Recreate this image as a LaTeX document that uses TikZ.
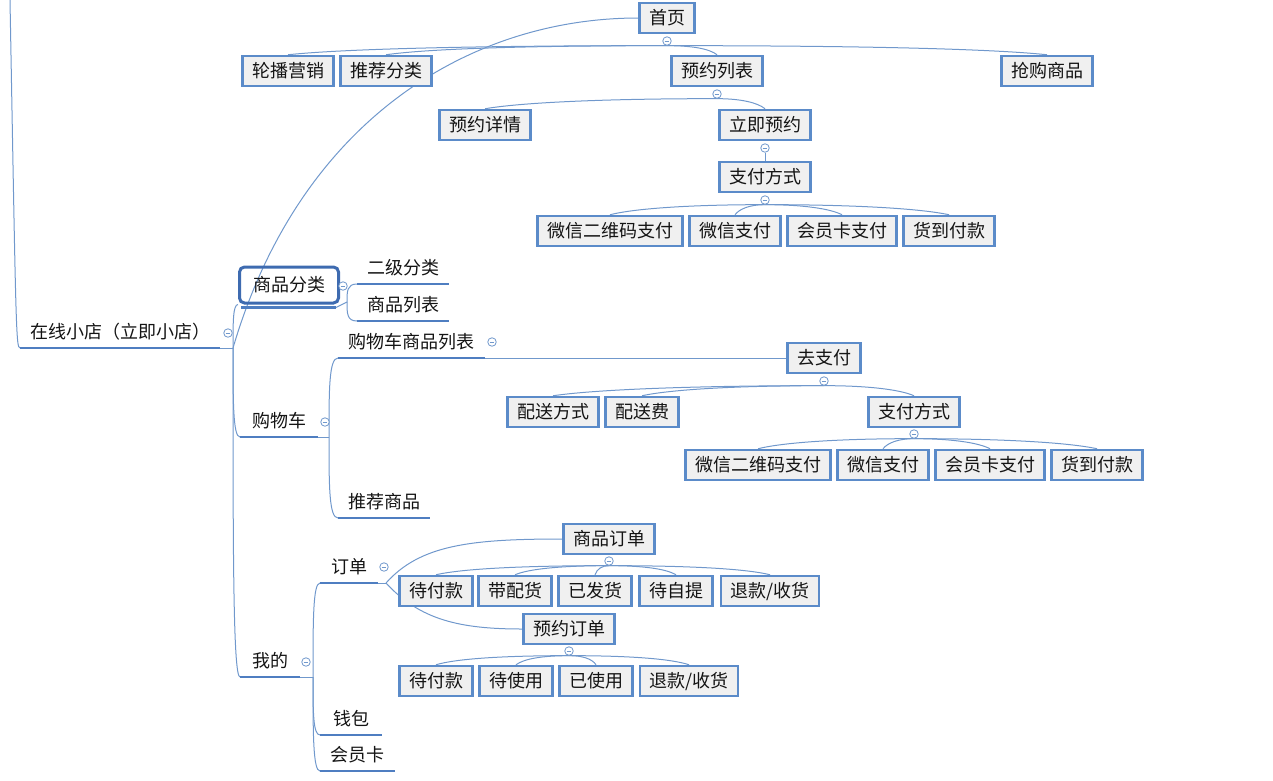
\documentclass[tikz,border=0pt]{standalone}
\usepackage{fontspec}
\newfontfamily\cjk{Noto Sans CJK SC}
\usetikzlibrary{calc}
\pgfdeclarelayer{bg}
\pgfsetlayers{bg,main}
\definecolor{boxblue}{HTML}{5B8BC9}
\definecolor{boxfill}{HTML}{F0F0F0}
\definecolor{lnblue}{HTML}{7098CC}
\definecolor{ulblue}{HTML}{4F7EC1}
\definecolor{selblue}{HTML}{3E6BB0}
\definecolor{txt}{HTML}{141414}
\begin{document}
\begin{tikzpicture}[x=1pt,y=-1pt,
  every node/.style={font=\cjk\fontsize{18pt}{21pt}\selectfont, text=txt},
  bx/.style={draw=boxblue, line width=2.5pt, fill=boxfill, minimum height=30pt, inner xsep=9.5pt, inner ysep=0pt},
  tp/.style={anchor=south west, inner xsep=0pt, inner ysep=0pt, text height=13pt, text depth=9pt},
  ul/.style={draw=ulblue, line width=2.5pt},
  ln/.style={draw=lnblue, line width=1pt},
  cc/.style={circle, draw=lnblue, fill=white, line width=0.8pt, minimum size=8.5pt, inner sep=0pt,
    path picture={\draw[lnblue, line width=0.8pt] ($(path picture bounding box.center)+(-2.4pt,0)$) -- ($(path picture bounding box.center)+(2.4pt,0)$);}},
  kid/.style={to path={let \p1=(\tikztostart), \p2=(\tikztotarget) in .. controls ({0.5*\x1+0.5*\x2},\y1) and ({0.85*\x2+0.15*\x1},{\y2+6pt}) .. (\tikztotarget)}},
  br/.style={to path={let \p1=(\tikztostart), \p2=(\tikztotarget) in .. controls (\x1,{0.4*\y1+0.6*\y2}) and (\x1,\y2) .. (\tikztotarget)}},
]
\useasboundingbox (0,0) rectangle (1273,780);

% ---------- top branch ----------
\node[bx] (shouye) at (667,18) {首页};
\node[cc] (cshouye) at (667,41) {};
\node[bx] (lunbo) at (288,71) {轮播营销};
\node[bx] (tjfl) at (386,71) {推荐分类};
\node[bx] (yylb) at (717,71) {预约列表};
\node[bx] (qgsp) at (1047,71) {抢购商品};
\node[cc] (cyylb) at (717,94) {};
\node[bx] (yyxq) at (485,125) {预约详情};
\node[bx] (ljyy) at (765,125) {立即预约};
\node[cc] (cljyy) at (765,148) {};
\node[bx] (zffsa) at (765,177) {支付方式};
\node[cc] (czffsa) at (765,200) {};
\node[bx] (wxewa) at (610,231) {微信二维码支付};
\node[bx] (wxzfa) at (735,231) {微信支付};
\node[bx] (hykza) at (842,231) {会员卡支付};
\node[bx] (hdfka) at (949,231) {货到付款};

% ---------- root ----------
\coordinate (ltop) at (10,0);
\node[tp, minimum width=200pt] (root) at (20,348) {在线小店（立即小店）};
\draw[ul] (root.south west) -- (root.south east);
\node[cc] (croot) at (228,333) {};
\coordinate (jroot) at (233,348);

% ---------- 商品分类 ----------
\node[draw=selblue, line width=3pt, rounded corners=5pt, minimum width=99pt, minimum height=36pt, inner sep=0pt] (spfl) at (289,285) {商品分类};
\coordinate (spflA) at ($(spfl.south west)+(3,3)$);
\coordinate (spflB) at ($(spfl.south east)+(-4,3)$);
\draw[ul] (spflA) -- (spflB);
\node[cc] (cspfl) at (343,286) {};
\coordinate (jspfl) at (347,302);
\node[tp, minimum width=92pt] (ejfl) at (357,284) {二级分类};
\draw[ul] (ejfl.south west) -- (ejfl.south east);
\node[tp, minimum width=92pt] (splb) at (357,321) {商品列表};
\draw[ul] (splb.south west) -- (splb.south east);

% ---------- 购物车 ----------
\node[tp, minimum width=78pt] (gwc) at (240,437) {购物车};
\draw[ul] (gwc.south west) -- (gwc.south east);
\node[cc] (cgwc) at (325,422) {};
\coordinate (jgwc) at (329,437);
\node[tp, minimum width=147pt] (gwclb) at (338,358) {购物车商品列表};
\draw[ul] (gwclb.south west) -- (gwclb.south east);
\node[cc] (cgwclb) at (492,342) {};
\node[tp, minimum width=92pt] (tjsp) at (338,518) {推荐商品};
\draw[ul] (tjsp.south west) -- (tjsp.south east);
\node[bx] (qzf) at (824,358) {去支付};
\node[cc] (cqzf) at (824,381) {};
\node[bx] (psfs) at (553,412) {配送方式};
\node[bx] (psf) at (642,412) {配送费};
\node[bx] (zffsb) at (914,412) {支付方式};
\node[cc] (czffsb) at (914,434) {};
\node[bx] (wxewb) at (758,465) {微信二维码支付};
\node[bx] (wxzfb) at (883,465) {微信支付};
\node[bx] (hykzb) at (990,465) {会员卡支付};
\node[bx] (hdfkb) at (1097,465) {货到付款};

% ---------- 我的 ----------
\node[tp, minimum width=60pt] (wode) at (240,677) {我的};
\draw[ul] (wode.south west) -- (wode.south east);
\node[cc] (cwode) at (306,662) {};
\coordinate (jwode) at (313,677);
\node[tp, minimum width=58pt] (dd) at (320,583) {订单};
\draw[ul] (dd.south west) -- (dd.south east);
\node[cc] (cdd) at (384,567) {};
\coordinate (jdd) at (386,583);
\node[tp, minimum width=62pt] (qb) at (320,735) {钱包};
\draw[ul] (qb.south west) -- (qb.south east);
\node[tp, minimum width=75pt] (hyk) at (320,771) {会员卡};
\draw[ul] (hyk.south west) -- (hyk.south east);
\node[bx] (spdd) at (609,539) {商品订单};
\node[cc] (cspdd) at (609,561) {};
\node[bx] (dfka) at (436,591) {待付款};
\node[bx] (dph) at (515,591) {带配货};
\node[bx] (yfh) at (595,591) {已发货};
\node[bx] (dzt) at (676,591) {待自提};
\node[bx] (tksha) at (770,591) {退款/收货};
\node[bx] (yydd) at (569,629) {预约订单};
\node[cc] (cyydd) at (569,651) {};
\node[bx] (dfkb) at (436,681) {待付款};
\node[bx] (dsy) at (516,681) {待使用};
\node[bx] (ysy) at (596,681) {已使用};
\node[bx] (tkshb) at (689,681) {退款/收货};

% ---------- connectors ----------
\begin{pgfonlayer}{bg}
\draw[ln] (ltop) .. controls (16,330) and (16,348) .. (root.south west);
\draw[ln] (root.south east) -- (jroot);
\draw[ln] (jroot) .. controls (300,120) and (470,18) .. (shouye.west);
\draw[ln] (jroot) to[br] (spfl.south west);
\draw[ln] (jroot) to[br] (gwc.south west);
\draw[ln] (jroot) to[br] (wode.south west);

\draw[ln] (cshouye.south) to[kid] (lunbo.north);
\draw[ln] (cshouye.south) to[kid] (tjfl.north);
\draw[ln] (cshouye.south) to[kid] (yylb.north);
\draw[ln] (cshouye.south) to[kid] (qgsp.north);
\draw[ln] (cyylb.south) to[kid] (yyxq.north);
\draw[ln] (cyylb.south) to[kid] (ljyy.north);
\draw[ln] (cljyy.south) to[kid] (zffsa.north);
\draw[ln] (czffsa.south) to[kid] (wxewa.north);
\draw[ln] (czffsa.south) to[kid] (wxzfa.north);
\draw[ln] (czffsa.south) to[kid] (hykza.north);
\draw[ln] (czffsa.south) to[kid] (hdfka.north);

\draw[ln] (spflB) -- (jspfl);
\draw[ln] (jspfl) to[br] (ejfl.south west);
\draw[ln] (jspfl) to[br] (splb.south west);

\draw[ln] (gwc.south east) -- (jgwc);
\draw[ln] (jgwc) to[br] (gwclb.south west);
\draw[ln] (jgwc) to[br] (tjsp.south west);
\draw[ln] (gwclb.south east) -- (qzf.west);
\draw[ln] (cqzf.south) to[kid] (psfs.north);
\draw[ln] (cqzf.south) to[kid] (psf.north);
\draw[ln] (cqzf.south) to[kid] (zffsb.north);
\draw[ln] (czffsb.south) to[kid] (wxewb.north);
\draw[ln] (czffsb.south) to[kid] (wxzfb.north);
\draw[ln] (czffsb.south) to[kid] (hykzb.north);
\draw[ln] (czffsb.south) to[kid] (hdfkb.north);

\draw[ln] (wode.south east) -- (jwode);
\draw[ln] (jwode) to[br] (dd.south west);
\draw[ln] (jwode) to[br] (qb.south west);
\draw[ln] (jwode) to[br] (hyk.south west);
\draw[ln] (dd.south east) -- (jdd);
\draw[ln] (jdd) .. controls (420,545) and (470,539) .. (spdd.west);
\draw[ln] (jdd) .. controls (420,620) and (460,629) .. (yydd.west);
\draw[ln] (cspdd.south) to[kid] (dfka.north);
\draw[ln] (cspdd.south) to[kid] (dph.north);
\draw[ln] (cspdd.south) to[kid] (yfh.north);
\draw[ln] (cspdd.south) to[kid] (dzt.north);
\draw[ln] (cspdd.south) to[kid] (tksha.north);
\draw[ln] (cyydd.south) to[kid] (dfkb.north);
\draw[ln] (cyydd.south) to[kid] (dsy.north);
\draw[ln] (cyydd.south) to[kid] (ysy.north);
\draw[ln] (cyydd.south) to[kid] (tkshb.north);
\end{pgfonlayer}
\end{tikzpicture}
\end{document}
